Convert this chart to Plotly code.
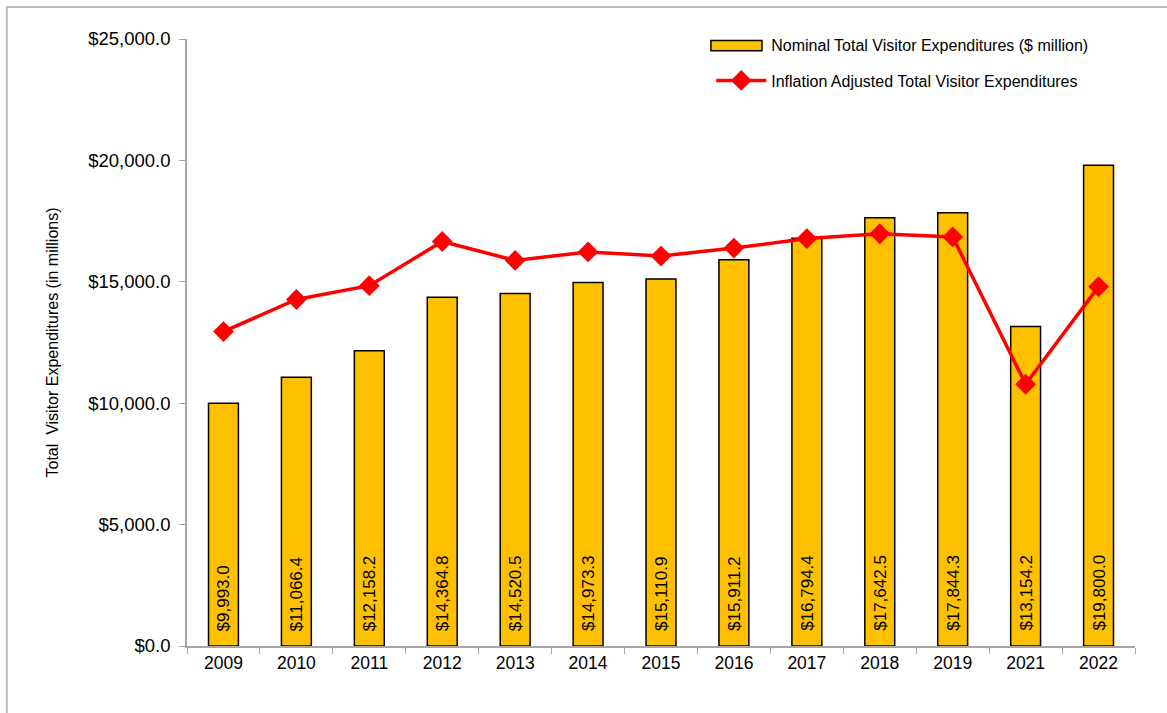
import plotly.graph_objects as go

years = ["2009", "2010", "2011", "2012", "2013", "2014", "2015", "2016", "2017", "2018", "2019", "2021", "2022"]
nominal = [9993.0, 11066.4, 12158.2, 14364.8, 14520.5, 14973.3, 15110.9, 15911.2, 16794.4, 17642.5, 17844.3, 13154.2, 19800.0]
adjusted = [12950, 14270, 14840, 16660, 15880, 16230, 16060, 16390, 16780, 16980, 16850, 10780, 14800]
y_ticks = [0, 5000, 10000, 15000, 20000, 25000]
y_tick_labels = ["$0.0", "$5,000.0", "$10,000.0", "$15,000.0", "$20,000.0", "$25,000.0"]

font_family = "Liberation Sans, Arial, sans-serif"
bar_color = "#FFC000"

fig = go.Figure()
fig.add_trace(go.Bar(
    x=years, y=nominal,
    name="Nominal Total Visitor Expenditures ($ million)",
    showlegend=False,
    marker=dict(color=bar_color, line=dict(color="#000000", width=1.5)),
    width=0.41,
))
# legend entry for the bars (symbol drawn as a wide box shape below)
fig.add_trace(go.Scatter(
    x=[None], y=[None], mode="markers",
    name="Nominal Total Visitor Expenditures ($ million)",
    legendgroup="a",
    marker=dict(color="rgba(0,0,0,0)", size=1),
))
fig.add_trace(go.Scatter(
    x=years, y=adjusted,
    name="Inflation Adjusted Total Visitor Expenditures",
    legendgroup="b",
    mode="lines+markers",
    line=dict(color="#FF0000", width=3.5),
    marker=dict(symbol="diamond", size=16, color="#FF0000"),
))

annotations = [
    dict(x=i, y=0, xref="x", yref="y", text=f"${v:,.1f}", textangle=-90,
         showarrow=False, xanchor="center", yanchor="bottom", yshift=13,
         font=dict(family=font_family, size=17, color="#000000"))
    for i, v in enumerate(nominal)
]

fig.update_layout(
    width=1167, height=713,
    margin=dict(l=187, r=32, t=39, b=67),
    paper_bgcolor="white", plot_bgcolor="white",
    font=dict(family=font_family, size=17, color="#000000"),
    showlegend=True,
    legend=dict(
        x=0.553, y=1.0185, xanchor="left", yanchor="top",
        font=dict(size=16), traceorder="grouped", tracegroupgap=12, itemwidth=50,
        bgcolor="rgba(0,0,0,0)",
    ),
    annotations=annotations,
    shapes=[
        dict(
            type="rect", xref="paper", yref="paper",
            x0=-0.19, x1=1.1, y0=-0.15, y1=1.0527,
            line=dict(color="#BFBFBF", width=2), fillcolor="rgba(0,0,0,0)", layer="below",
        ),
        dict(
            type="rect", xref="paper", yref="paper",
            x0=0.5527, x1=0.6065, y0=0.9805, y1=0.9975,
            line=dict(color="#000000", width=1.5), fillcolor=bar_color, layer="above",
        ),
    ],
)
fig.update_xaxes(
    type="category",
    categoryorder="array", categoryarray=years,
    range=[-0.5, len(years) - 0.5],
    showline=True, linecolor="#A6A6A6", linewidth=1.5,
    ticks="outside", tickson="boundaries", ticklen=6, tickcolor="#A6A6A6",
    showgrid=False, tickangle=0,
    tickfont=dict(size=17.5),
)
fig.update_yaxes(
    range=[0, 25000],
    tickvals=y_ticks, ticktext=y_tick_labels,
    showline=True, linecolor="#A6A6A6", linewidth=1.5,
    ticks="outside", ticklen=6, tickcolor="#A6A6A6",
    ticklabelstandoff=5,
    showgrid=False, zeroline=False,
    tickfont=dict(size=18.5),
    title=dict(text="Total  Visitor Expenditures (in millions)", font=dict(size=16), standoff=26),
)

fig.write_html("out.html")
